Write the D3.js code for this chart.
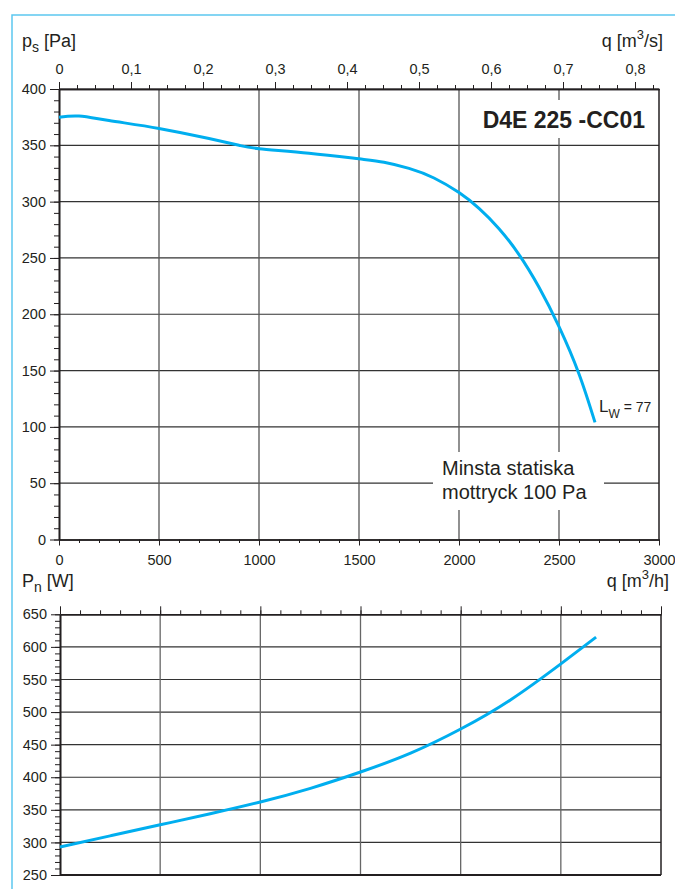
<!DOCTYPE html>
<html>
<head>
<meta charset="utf-8">
<script src="https://cdn.jsdelivr.net/npm/d3@7.9.0/dist/d3.min.js"></script>
<style>
  body { margin: 0; background: #fff; }
  svg { display: block; font-family: "Liberation Sans", Arial, Helvetica, sans-serif; }
  .axis text { font-size: 14.5px; fill: #231f20; }
  .axis path, .axis line { stroke: #231f20; }
</style>
</head>
<body>
<svg id="chart" width="675" height="889"></svg>
<script>
// Pressure curve, static pressure [Pa] vs flow [m3/h]
const pressureFlow = [0, 100, 250, 500, 750, 900, 1000, 1250, 1500, 1625, 1750, 1875, 2000, 2100, 2200, 2300, 2400, 2500, 2600, 2680];
const pressure = [375, 376, 372, 365, 356, 350, 347, 343, 338, 335, 329.5, 321, 308, 294, 276, 253, 224, 189, 147, 104];

// Power curve, input power [W] vs flow [m3/h]
const powerFlow = [0, 250, 500, 750, 1000, 1250, 1500, 1750, 2000, 2250, 2500, 2676];
const power = [293, 310, 327, 344, 362, 383, 408, 437, 474, 519, 574, 615];

// Ticks
const flowTicks = [0, 500, 1000, 1500, 2000, 2500, 3000];
const flowSecTicks = [0, 0.1, 0.2, 0.3, 0.4, 0.5, 0.6, 0.7, 0.8];
const pressureTicks = [0, 50, 100, 150, 200, 250, 300, 350, 400];
const powerTicks = [250, 300, 350, 400, 450, 500, 550, 600, 650];

const blue = '#00aeef';
const ink = '#231f20';
const svg = d3.select('#chart');

// light blue frame
svg.append('path')
    .attr('d', 'M12,889V15H675')
    .attr('fill', 'none')
    .attr('stroke', '#5cc8f0')
    .attr('stroke-width', 1.5);

const fmtComma = (d) => d3.format('.1f')(d).replace('.', ',').replace(/^0,0$/, '0');

// ---------- Top chart ----------
let xTop = d3.scaleLinear().domain([0, 3000]).range([59, 659]);
let xTopSec = d3.scaleLinear().domain([0, 3000 / 3600]).range([59, 659]);
let yTop = d3.scaleLinear().domain([0, 400]).range([539.5, 89]);

let topG = svg.append('g');

// grid
topG.append('g').selectAll('line')
    .data(pressureTicks.slice(1))
    .join('line')
    .attr('x1', 59).attr('x2', 659)
    .attr('y1', (d) => yTop(d)).attr('y2', (d) => yTop(d))
    .attr('stroke', '#333').attr('stroke-width', 1.2);

topG.append('g').selectAll('line')
    .data(flowTicks.slice(1))
    .join('line')
    .attr('x1', (d) => xTop(d)).attr('x2', (d) => xTop(d))
    .attr('y1', yTop(0)).attr('y2', yTop(400))
    .attr('stroke', (d) => d === 3000 ? ink : '#555').attr('stroke-width', (d) => d === 3000 ? 1.5 : 1.3);

// white boxes behind labels
topG.append('rect').attr('x', 476).attr('y', 100).attr('width', 174).attr('height', 38).attr('fill', '#fff');
topG.append('rect').attr('x', 433).attr('y', 452).attr('width', 171).attr('height', 58).attr('fill', '#fff');

// axes
topG.append('g').attr('class', 'axis')
    .attr('transform', `translate(59,0)`)
    .call(d3.axisLeft(yTop).tickValues(d3.range(0, 401, 10)).tickSize(5).tickSizeOuter(0).tickFormat(''));
topG.append('g').attr('class', 'axis')
    .attr('transform', `translate(59,0)`)
    .call(d3.axisLeft(yTop).tickValues(pressureTicks).tickSize(9).tickPadding(4).tickSizeOuter(0));

topG.append('g').attr('class', 'axis')
    .attr('transform', `translate(0,${yTop(0)})`)
    .call(d3.axisBottom(xTop).tickValues(d3.range(0, 3001, 100)).tickSize(3.5).tickSizeOuter(0).tickFormat(''));
topG.append('g').attr('class', 'axis')
    .attr('transform', `translate(0,${yTop(0)})`)
    .call(d3.axisBottom(xTop).tickValues(flowTicks).tickSize(6).tickPadding(9).tickSizeOuter(0).tickFormat(d3.format('d')));

topG.append('g').attr('class', 'axis')
    .attr('transform', `translate(0,${yTop(400)})`)
    .call(d3.axisTop(xTopSec).tickValues(d3.range(0, 0.8301, 0.025)).tickSize(4).tickSizeOuter(0).tickFormat(''));
topG.append('g').attr('class', 'axis')
    .attr('transform', `translate(0,${yTop(400)})`)
    .call(d3.axisTop(xTopSec).tickValues(flowSecTicks).tickSize(7).tickPadding(8).tickSizeOuter(0).tickFormat(fmtComma));

topG.selectAll('.axis path.domain').attr('stroke-width', 1.6);

// pressure curve
let pressureLine = d3.line()
    .x((d, i) => xTop(pressureFlow[i]))
    .y((d) => yTop(d))
    .curve(d3.curveNatural);

topG.append('path')
    .datum(pressure)
    .attr('d', pressureLine)
    .attr('fill', 'none')
    .attr('stroke', blue)
    .attr('stroke-width', 3);

// texts
let t1 = topG.append('text').attr('x', 22).attr('y', 47).attr('fill', ink).attr('font-size', 18);
t1.append('tspan').text('p');
t1.append('tspan').attr('font-size', 14).attr('dy', 5).text('s');
t1.append('tspan').attr('dy', -5).text(' [Pa]');

let t2 = topG.append('text').attr('x', 663).attr('y', 47).attr('text-anchor', 'end').attr('fill', ink).attr('font-size', 18);
t2.append('tspan').text('q [m');
t2.append('tspan').attr('font-size', 13).attr('dy', -8).text('3');
t2.append('tspan').attr('dy', 8).text('/s]');

topG.append('text')
    .attr('x', 645).attr('y', 128)
    .attr('text-anchor', 'end')
    .attr('font-size', 23).attr('font-weight', 'bold')
    .attr('fill', ink)
    .text('D4E 225 -CC01');

topG.append('text').attr('x', 442).attr('y', 475).attr('font-size', 20).attr('fill', ink).text('Minsta statiska');
topG.append('text').attr('x', 442).attr('y', 499).attr('font-size', 20).attr('fill', ink).text('mottryck 100 Pa');

let lw = topG.append('text').attr('x', 599).attr('y', 411.5).attr('fill', ink).attr('font-size', 17);
lw.append('tspan').text('L');
lw.append('tspan').attr('font-size', 12).attr('dy', 6.5).text('W');
lw.append('tspan').attr('font-size', 14).attr('dy', -6.5).text(' = 77');

let t3 = topG.append('text').attr('x', 669).attr('y', 587).attr('text-anchor', 'end').attr('fill', ink).attr('font-size', 18);
t3.append('tspan').text('q [m');
t3.append('tspan').attr('font-size', 13).attr('dy', -8).text('3');
t3.append('tspan').attr('dy', 8).text('/h]');

let t4 = topG.append('text').attr('x', 22).attr('y', 587).attr('fill', ink).attr('font-size', 18);
t4.append('tspan').text('P');
t4.append('tspan').attr('font-size', 14).attr('dy', 5).text('n');
t4.append('tspan').attr('dy', -5).text(' [W]');

// ---------- Bottom chart ----------
let xBot = d3.scaleLinear().domain([0, 3000]).range([60, 661]);
let yBot = d3.scaleLinear().domain([250, 650]).range([875, 614.3]);

let botG = svg.append('g');

botG.append('g').selectAll('line')
    .data(powerTicks.slice(1, -1))
    .join('line')
    .attr('x1', 60).attr('x2', 661)
    .attr('y1', (d) => yBot(d)).attr('y2', (d) => yBot(d))
    .attr('stroke', '#333').attr('stroke-width', 1.2);

botG.append('g').selectAll('line')
    .data(flowTicks.slice(1))
    .join('line')
    .attr('x1', (d) => xBot(d)).attr('x2', (d) => xBot(d))
    .attr('y1', yBot(250)).attr('y2', yBot(650))
    .attr('stroke', (d) => d === 3000 ? ink : '#666').attr('stroke-width', (d) => d === 3000 ? 1.5 : 1.3);

botG.append('line')
    .attr('x1', 60).attr('x2', 661)
    .attr('y1', yBot(250)).attr('y2', yBot(250))
    .attr('stroke', ink).attr('stroke-width', 1.8);

botG.append('g').attr('class', 'axis')
    .attr('transform', 'translate(60,0)')
    .call(d3.axisLeft(yBot).tickValues(d3.range(250, 651, 10)).tickSize(5).tickSizeOuter(0).tickFormat(''));
botG.append('g').attr('class', 'axis')
    .attr('transform', 'translate(60,0)')
    .call(d3.axisLeft(yBot).tickValues(powerTicks).tickSize(9).tickPadding(4).tickSizeOuter(0));

botG.append('g').attr('class', 'axis')
    .attr('transform', `translate(0,${yBot(650)})`)
    .call(d3.axisTop(xBot).tickValues(d3.range(0, 3001, 100)).tickSize(4).tickSizeOuter(0).tickFormat(''));
botG.append('g').attr('class', 'axis')
    .attr('transform', `translate(0,${yBot(650)})`)
    .call(d3.axisTop(xBot).tickValues(flowTicks).tickSize(8).tickSizeOuter(0).tickFormat(''));

botG.selectAll('.axis path.domain').attr('stroke-width', 1.6);

let powerLine = d3.line()
    .x((d, i) => xBot(powerFlow[i]))
    .y((d) => yBot(d))
    .curve(d3.curveNatural);

botG.append('path')
    .datum(power)
    .attr('d', powerLine)
    .attr('fill', 'none')
    .attr('stroke', blue)
    .attr('stroke-width', 3);
</script>
</body>
</html>
